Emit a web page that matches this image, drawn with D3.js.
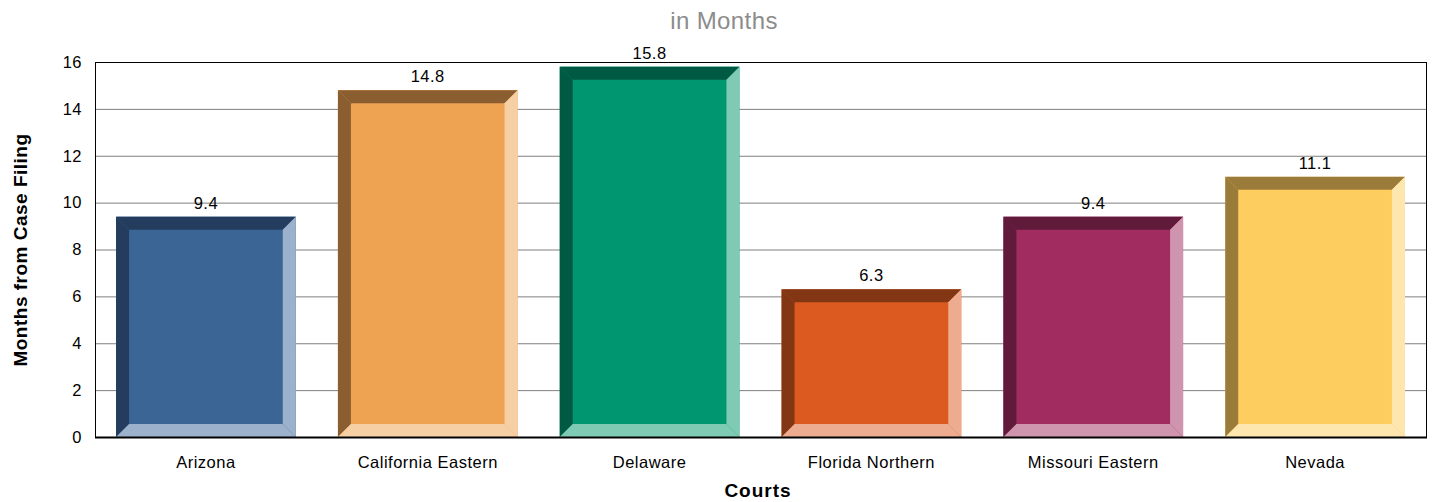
<!DOCTYPE html>
<html>
<head>
<meta charset="utf-8">
<script src="https://cdn.jsdelivr.net/npm/d3@7"></script>
<style>
  body { margin: 0; background: #fff; }
  svg { font-family: "Liberation Sans", Arial, sans-serif; }
  .grid line { stroke: #7f7f7f; stroke-width: 1; }
  .tick-label { font-size: 16.5px; letter-spacing: 0.5px; fill: #000; }
</style>
</head>
<body>
<svg id="chart" width="1432" height="502"></svg>
<script>
// data
var courts = ["Arizona", "California Eastern", "Delaware", "Florida Northern", "Missouri Eastern", "Nevada"];
var months = [9.4, 14.8, 15.8, 6.3, 9.4, 11.1];
var yTicks = [0, 2, 4, 6, 8, 10, 12, 14, 16];
var faceColors = ["#3a6595", "#eea353", "#009670", "#dc5a20", "#a02c60", "#fdcd60"];
var darkColors = ["#243d5e", "#8a5e30", "#005a43", "#833614", "#601a3a", "#9a7b3a"];
var lightColors = ["#9bb1cc", "#f7cfa5", "#7fcab3", "#edac8f", "#cf95af", "#fee6af"];

var plotLeft = 95, plotRight = 1426, plotTop = 62, plotBottom = 437;
var bev = 13;

var svg = d3.select("#chart");

var x = d3.scaleBand().domain(courts).range([plotLeft, plotRight]).paddingInner(0.19).paddingOuter(0.095);
var y = d3.scaleLinear().domain([0, 16]).range([plotBottom, plotTop]);

// gridlines
svg.append("g").attr("class", "grid")
  .selectAll("line").data(yTicks).enter().append("line")
  .attr("x1", plotLeft).attr("x2", plotRight)
  .attr("y1", function(d) { return y(d) + 0.5; })
  .attr("y2", function(d) { return y(d) + 0.5; });

// y tick labels
svg.append("g").selectAll("text").data(yTicks).enter().append("text")
  .attr("class", "tick-label")
  .attr("x", 82).attr("y", function(d) { return y(d); })
  .attr("dy", "0.35em").attr("text-anchor", "end")
  .text(function(d) { return d; });

// bars with a bevel
function poly(pts) {
  return "M" + pts.map(function(p) { return p[0] + "," + p[1]; }).join("L") + "Z";
}

var bars = svg.append("g").selectAll("g").data(courts).enter().append("g");

bars.each(function(c, i) {
  var g = d3.select(this);
  var x0 = x(c), x1 = x(c) + x.bandwidth();
  var y0 = y(months[i]), y1 = y(0);
  g.append("rect").attr("x", x0).attr("y", y0).attr("width", x1 - x0).attr("height", y1 - y0)
    .attr("fill", faceColors[i]);
  g.append("path").attr("fill", darkColors[i])
    .attr("d", poly([[x0, y0], [x1, y0], [x1 - bev, y0 + bev], [x0 + bev, y0 + bev]]));
  g.append("path").attr("fill", darkColors[i])
    .attr("d", poly([[x0, y0], [x0 + bev, y0 + bev], [x0 + bev, y1 - bev], [x0, y1]]));
  g.append("path").attr("fill", lightColors[i])
    .attr("d", poly([[x1, y0], [x1, y1], [x1 - bev, y1 - bev], [x1 - bev, y0 + bev]]));
  g.append("path").attr("fill", lightColors[i])
    .attr("d", poly([[x0, y1], [x1, y1], [x1 - bev, y1 - bev], [x0 + bev, y1 - bev]]));
  // value label
  g.append("text").attr("class", "tick-label")
    .attr("x", (x0 + x1) / 2).attr("y", y0 - 8)
    .attr("text-anchor", "middle")
    .text(months[i]);
});

// plot frame
svg.append("rect").attr("x", plotLeft + 0.5).attr("y", plotTop + 0.5)
  .attr("width", plotRight - plotLeft).attr("height", plotBottom - plotTop)
  .attr("fill", "none").attr("stroke", "#000").attr("stroke-width", 1);
svg.append("line").attr("x1", plotLeft).attr("x2", plotRight + 1)
  .attr("y1", plotBottom + 0.5).attr("y2", plotBottom + 0.5)
  .attr("stroke", "#000").attr("stroke-width", 2);

// category labels
svg.append("g").selectAll("text").data(courts).enter().append("text")
  .attr("class", "tick-label")
  .attr("x", function(d) { return x(d) + x.bandwidth() / 2; })
  .attr("y", 468).attr("text-anchor", "middle")
  .text(function(d) { return d; });

// titles
svg.append("text").attr("x", 724).attr("y", 29).attr("text-anchor", "middle")
  .style("font-size", "24px").style("letter-spacing", "0.4px")
  .style("fill", "#8c8c8c").text("in Months");

svg.append("text").attr("x", 758).attr("y", 497).attr("text-anchor", "middle")
  .style("font-size", "19px").style("font-weight", "bold").style("letter-spacing", "1px")
  .text("Courts");

svg.append("text").attr("transform", "translate(27,250) rotate(-90)")
  .attr("text-anchor", "middle")
  .style("font-size", "19px").style("font-weight", "bold").style("letter-spacing", "0.5px")
  .text("Months from Case Filing");
</script>
</body>
</html>
